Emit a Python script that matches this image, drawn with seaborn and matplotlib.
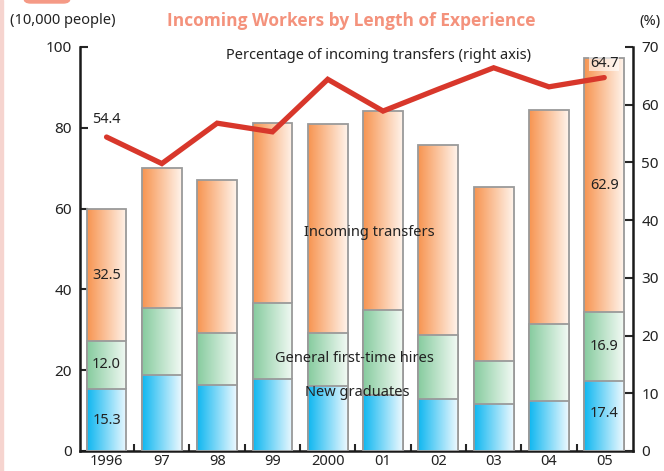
import numpy as np
import pandas as pd
import matplotlib
matplotlib.use("Agg")
import matplotlib.pyplot as plt
import seaborn as sns
from matplotlib.colors import LinearSegmentedColormap
from matplotlib.patches import Rectangle, FancyBboxPatch

# Data (10,000 people / %)
years = ["1996", "97", "98", "99", "2000", "01", "02", "03", "04", "05"]
new_grads = [15.3, 18.7, 16.4, 17.7, 16.1, 13.8, 12.9, 11.6, 12.4, 17.4]
first_time = [12.0, 16.7, 12.9, 18.9, 13.0, 21.0, 15.8, 10.6, 19.0, 16.9]
transfers = [32.5, 34.6, 37.8, 44.5, 51.8, 49.4, 47.1, 43.2, 53.0, 62.9]
transfer_pct = [54.4, 49.8, 56.8, 55.3, 64.4, 58.9, 62.7, 66.4, 63.1, 64.7]

df = pd.DataFrame({"year": years, "new": new_grads, "first": first_time,
                   "transfer": transfers, "pct": transfer_pct})
df["cum1"] = df["new"]
df["cum2"] = df["new"] + df["first"]
df["cum3"] = df["cum2"] + df["transfer"]

sns.set_style("ticks")
plt.rcParams["font.family"] = ["Noto Sans", "DejaVu Sans"]
txt = "#222222"

fig = plt.figure(figsize=(6.64, 4.71), dpi=100)
ax = fig.add_axes([80/664, 20/471, 553/664, 404/471])

# gradient colours (left -> right)
grads = {"cum3": ("#f79450", "#fff4ec"),
         "cum2": ("#86cb9e", "#f3faf5"),
         "cum1": ("#0fb7f0", "#eef9ff")}

z = 1
for col in ["cum3", "cum2", "cum1"]:
    n_before = len(ax.patches)
    sns.barplot(data=df, x="year", y=col, width=0.72, color="white",
                edgecolor="#9a9a9a", linewidth=1.3, ax=ax)
    cmap = LinearSegmentedColormap.from_list(col, grads[col])
    for p in ax.patches[n_before:]:
        x0, y0 = p.get_xy()
        w, h = p.get_width(), p.get_height()
        p.set_facecolor("none")
        p.set_zorder(z + 0.5)
        im = ax.imshow(np.linspace(0, 1, 256).reshape(1, -1), cmap=cmap,
                       extent=[x0, x0 + w, y0, y0 + h], aspect="auto",
                       zorder=z, interpolation="bilinear")
        im.set_clip_path(p)
    z += 1

ax.set_xlim(-0.48, 9.52)
ax.set_ylim(0, 100)
ax.set_xlabel("")
ax.set_ylabel("")
ax.set_yticks(range(0, 101, 20))
ax.set_xticks(np.arange(0.5, 9, 1))
ax.set_xticklabels([])
ax.set_xticks(range(10), minor=True)
ax.set_xticklabels(years, minor=True)
ax.tick_params(axis="x", which="major", direction="in", length=5, width=1.5)
ax.tick_params(axis="x", which="minor", length=0, pad=2, labelsize=10.5, labelcolor=txt)
ax.tick_params(axis="y", direction="in", length=6, width=1.5, labelsize=11,
               labelcolor=txt, pad=6)
for s in ["left", "bottom"]:
    ax.spines[s].set_linewidth(1.8)
    ax.spines[s].set_color("#1a1a1a")
ax.spines["top"].set_visible(False)
ax.spines["right"].set_visible(False)

# right axis line
ax2 = ax.twinx()
sns.lineplot(x=np.arange(len(years)), y=df["pct"], ax=ax2, color="#d8372b",
             linewidth=3.8, solid_joinstyle="miter")
ax2.set_ylim(0, 70)
ax2.set_xlim(-0.48, 9.52)
ax2.set_ylabel("")
ax2.set_yticks(range(0, 71, 10))
ax2.tick_params(axis="y", direction="in", length=6, width=1.5, labelsize=11,
                labelcolor=txt, pad=6)
for s in ["top", "left", "bottom"]:
    ax2.spines[s].set_visible(False)
ax2.spines["right"].set_linewidth(1.8)
ax2.spines["right"].set_color("#1a1a1a")

# value labels (left-axis data coords, drawn on top)
def lab(x, y, s, **kw):
    ax2.text(x, y * 0.7, s, ha="center", va="center", fontsize=10.5,
             color=txt, zorder=10, **kw)

first, last = 0, len(years) - 1
lab(first, df["cum1"][first] / 2, f"{new_grads[first]:.1f}")
lab(first, df["cum1"][first] + first_time[first] / 2, f"{first_time[first]:.1f}")
lab(first, df["cum2"][first] + transfers[first] / 2, f"{transfers[first]:.1f}")
lab(first, 82.0, f"{transfer_pct[first]:.1f}")
lab(last, df["cum1"][last] / 2 + 0.5, f"{new_grads[last]:.1f}")
lab(last, df["cum1"][last] + first_time[last] / 2, f"{first_time[last]:.1f}")
lab(last, df["cum2"][last] + transfers[last] / 2, f"{transfers[last]:.1f}")
lab(last, df["cum3"][last] - 1.2, f"{transfer_pct[last]:.1f}",
    bbox=dict(boxstyle="square,pad=0.05", fc="white", ec="none", alpha=0.6))

# series captions
lab(4.91, 98.0, "Percentage of incoming transfers (right axis)")
lab(4.76, 54.2, "Incoming transfers")
lab(4.49, 22.8, "General first-time hires")
lab(4.53, 14.6, "New graduates")

# header texts
fig.text(351/664, 1 - 21/471, "Incoming Workers by Length of Experience",
         ha="center", va="center", fontsize=12.5, fontweight="bold",
         family=["Open Sans", "DejaVu Sans"], color="#f4927c")
fig.text(63/664, 1 - 21/471, "(10,000 people)", ha="center", va="center",
         fontsize=10.5, color=txt)
fig.text(650/664, 1 - 21/471, "(%)", ha="center", va="center",
         fontsize=10.5, color=txt)

# page decorations
fig.patches.append(Rectangle((0, 0), 3/664, 1, transform=fig.transFigure,
                             color="#f6d4cf", zorder=0))
fig.patches.append(FancyBboxPatch((24/664, 1 - 3/471), 46/664, 10/471,
                                  boxstyle="round,pad=0,rounding_size=0.01",
                                  transform=fig.transFigure, color="#f59a86",
                                  zorder=0, clip_on=False))

fig.savefig("out.png", dpi=100)
